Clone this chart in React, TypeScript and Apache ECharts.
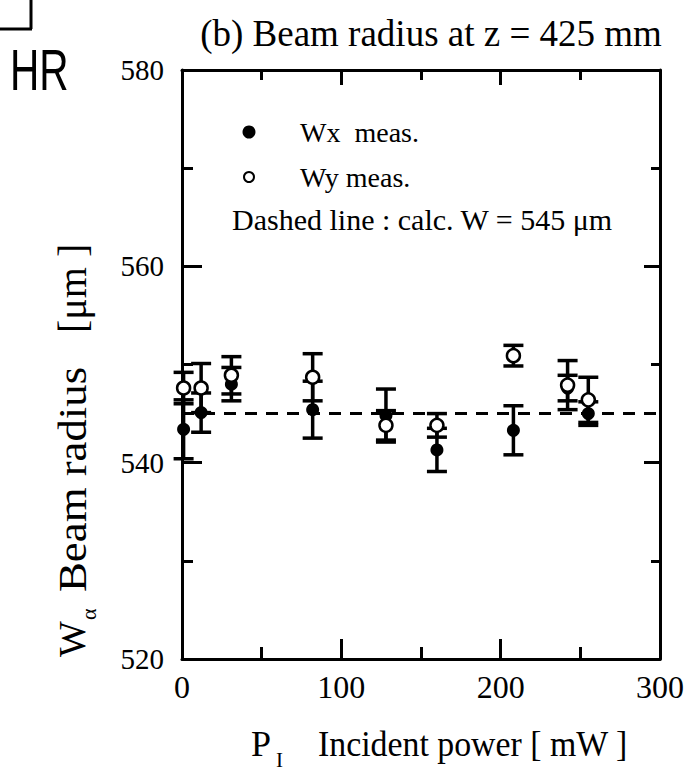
import React, { useEffect, useRef } from "react";
import * as echarts from "echarts";

const powerX = [1, 12, 31, 82, 128, 160, 208, 242, 255];
const wxMeas = [543.4, 545.1, 548.0, 545.4, 544.8, 541.3, 543.3, 547.6, 545.0];
const wxErr = [3.0, 2.0, 1.7, 2.9, 2.7, 2.2, 2.5, 1.3, 1.2];
const powerY = [1, 12, 31, 82, 128, 160, 208, 242, 255];
const wyMeas = [547.6, 547.6, 548.9, 548.7, 543.8, 543.8, 550.9, 547.9, 546.4];
const wyErr = [1.6, 2.5, 1.9, 2.4, 1.5, 1.2, 1.05, 2.5, 2.3];
const calcW = 545;
const xRange = [0, 300];
const yRange = [520, 580];
const xMajor = 100;
const yMajor = 20;

const SERIF = "'Liberation Serif', 'DejaVu Serif', serif";
const SANS = "'Liberation Sans', Arial, sans-serif";

export default function App() {
  const ref = useRef<HTMLDivElement>(null);
  useEffect(() => {
    if (!ref.current) return;
    const chart = echarts.init(ref.current, undefined, { renderer: "svg" });

    const errData = (xs: number[], ys: number[], es: number[]) =>
      xs.map((x, i) => [x, ys[i], es[i]]);

    const errRender = (params: any, api: any) => {
      const x = api.value(0);
      const y = api.value(1);
      const e = api.value(2);
      const top = api.coord([x, y + e]);
      const bot = api.coord([x, y - e]);
      const hw = 10;
      const st = { stroke: "#000", lineWidth: 3.5 };
      return {
        type: "group",
        children: [
          { type: "line", shape: { x1: top[0], y1: top[1], x2: bot[0], y2: bot[1] }, style: st },
          { type: "line", shape: { x1: top[0] - hw, y1: top[1], x2: top[0] + hw, y2: top[1] }, style: st },
          { type: "line", shape: { x1: bot[0] - hw, y1: bot[1], x2: bot[0] + hw, y2: bot[1] }, style: st },
        ],
      };
    };

    const mkAxis = (
      range: number[],
      interval: number,
      position: string,
      tickLen: number,
      minorLen: number,
      label: any
    ) => ({
      type: "value",
      min: range[0],
      max: range[1],
      interval,
      position,
      axisLine: { show: true, onZero: false, lineStyle: { color: "#000", width: 3 } },
      axisTick: { show: true, inside: true, length: tickLen, lineStyle: { color: "#000", width: 3 } },
      minorTick: { show: true, splitNumber: 2, length: minorLen, lineStyle: { color: "#000", width: 3 } },
      splitLine: { show: false },
      minorSplitLine: { show: false },
      axisLabel: label,
    });

    chart.setOption({
      animation: false,
      backgroundColor: "#fff",
      grid: { left: 182, right: 31, top: 70, bottom: 116 },
      xAxis: [
        mkAxis(xRange, xMajor, "bottom", 20, 12, { color: "#000", fontFamily: SERIF, fontSize: 32, margin: 12 }),
        mkAxis(xRange, xMajor, "top", 15, 10, { show: false }),
      ],
      yAxis: [
        mkAxis(yRange, yMajor, "left", 20, 11, { color: "#000", fontFamily: SERIF, fontSize: 29, margin: 18 }),
        mkAxis(yRange, yMajor, "right", 16, 9, { show: false }),
      ],
      series: [
        {
          type: "line",
          data: [[xRange[0], calcW], [xRange[1], calcW]],
          symbol: "none",
          lineStyle: { color: "#000", width: 3, type: [12, 9] },
          z: 1,
        },
        {
          type: "custom",
          renderItem: errRender,
          data: errData(powerX, wxMeas, wxErr),
          z: 2,
        },
        {
          type: "custom",
          renderItem: errRender,
          data: errData(powerY, wyMeas, wyErr),
          z: 2,
        },
        {
          type: "scatter",
          data: powerX.map((x, i) => [x, wxMeas[i]]),
          symbol: "circle",
          symbolSize: 13,
          itemStyle: { color: "#000", opacity: 1 },
          z: 3,
        },
        {
          type: "scatter",
          data: powerY.map((x, i) => [x, wyMeas[i]]),
          symbol: "circle",
          symbolSize: 13,
          itemStyle: { color: "#fff", borderColor: "#000", borderWidth: 2.5, opacity: 1 },
          z: 4,
        },
      ],
      graphic: [
        // corner bracket
        { type: "line", shape: { x1: 31, y1: 0, x2: 31, y2: 29 }, style: { stroke: "#000", lineWidth: 3 } },
        { type: "line", shape: { x1: 0, y1: 29, x2: 32, y2: 29 }, style: { stroke: "#000", lineWidth: 3 } },
        {
          type: "text",
          x: 10,
          y: 70,
          scaleX: 0.7,
          style: { text: "HR", fontFamily: SANS, fontSize: 58, fill: "#000", verticalAlign: "middle" },
        },
        {
          type: "text",
          x: 431,
          y: 33,
          style: { text: "(b) Beam radius at z = 425 mm", fontFamily: SERIF, fontSize: 37, fill: "#000", align: "center", verticalAlign: "middle" },
        },
        // legend
        { type: "circle", shape: { cx: 249, cy: 132, r: 6.5 }, style: { fill: "#000" } },
        { type: "text", x: 300, y: 132, style: { text: "Wx  meas.", fontFamily: SERIF, fontSize: 28, fill: "#000", verticalAlign: "middle" } },
        { type: "circle", shape: { cx: 249, cy: 177, r: 5 }, style: { fill: "#fff", stroke: "#000", lineWidth: 2 } },
        { type: "text", x: 300, y: 177, style: { text: "Wy meas.", fontFamily: SERIF, fontSize: 28, fill: "#000", verticalAlign: "middle" } },
        { type: "text", x: 232, y: 219, style: { text: "Dashed line : calc. W = 545 μm", fontFamily: SERIF, fontSize: 30, fill: "#000", verticalAlign: "middle" } },
        // x axis name
        { type: "text", x: 251, y: 744, style: { text: "P", fontFamily: SERIF, fontSize: 36, fill: "#000", verticalAlign: "middle" } },
        { type: "text", x: 276, y: 760, style: { text: "I", fontFamily: SERIF, fontSize: 21, fill: "#000", verticalAlign: "middle" } },
        { type: "text", x: 318, y: 744, scaleX: 0.94, style: { text: "Incident power [ mW ]", fontFamily: SERIF, fontSize: 36, fill: "#000", verticalAlign: "middle" } },
        // y axis name (rotated)
        { type: "text", x: 72, y: 657, rotation: Math.PI / 2, style: { text: "W", fontFamily: SERIF, fontSize: 38, fill: "#000", verticalAlign: "middle", align: "left" } },
        { type: "text", x: 88, y: 620, rotation: Math.PI / 2, style: { text: "α", fontFamily: SERIF, fontSize: 22, fill: "#000", verticalAlign: "middle", align: "left" } },
        { type: "text", x: 72, y: 592, rotation: Math.PI / 2, scaleX: 1.12, style: { text: "Beam radius", fontFamily: SERIF, fontSize: 40, fill: "#000", verticalAlign: "middle", align: "left" } },
        { type: "text", x: 72, y: 333, rotation: Math.PI / 2, style: { text: "[μm ]", fontFamily: SERIF, fontSize: 40, fill: "#000", verticalAlign: "middle", align: "left" } },
      ],
    });
    return () => chart.dispose();
  }, []);
  return <div ref={ref} style={{ width: 691, height: 775, position: "absolute", left: 0, top: 0 }} />;
}
